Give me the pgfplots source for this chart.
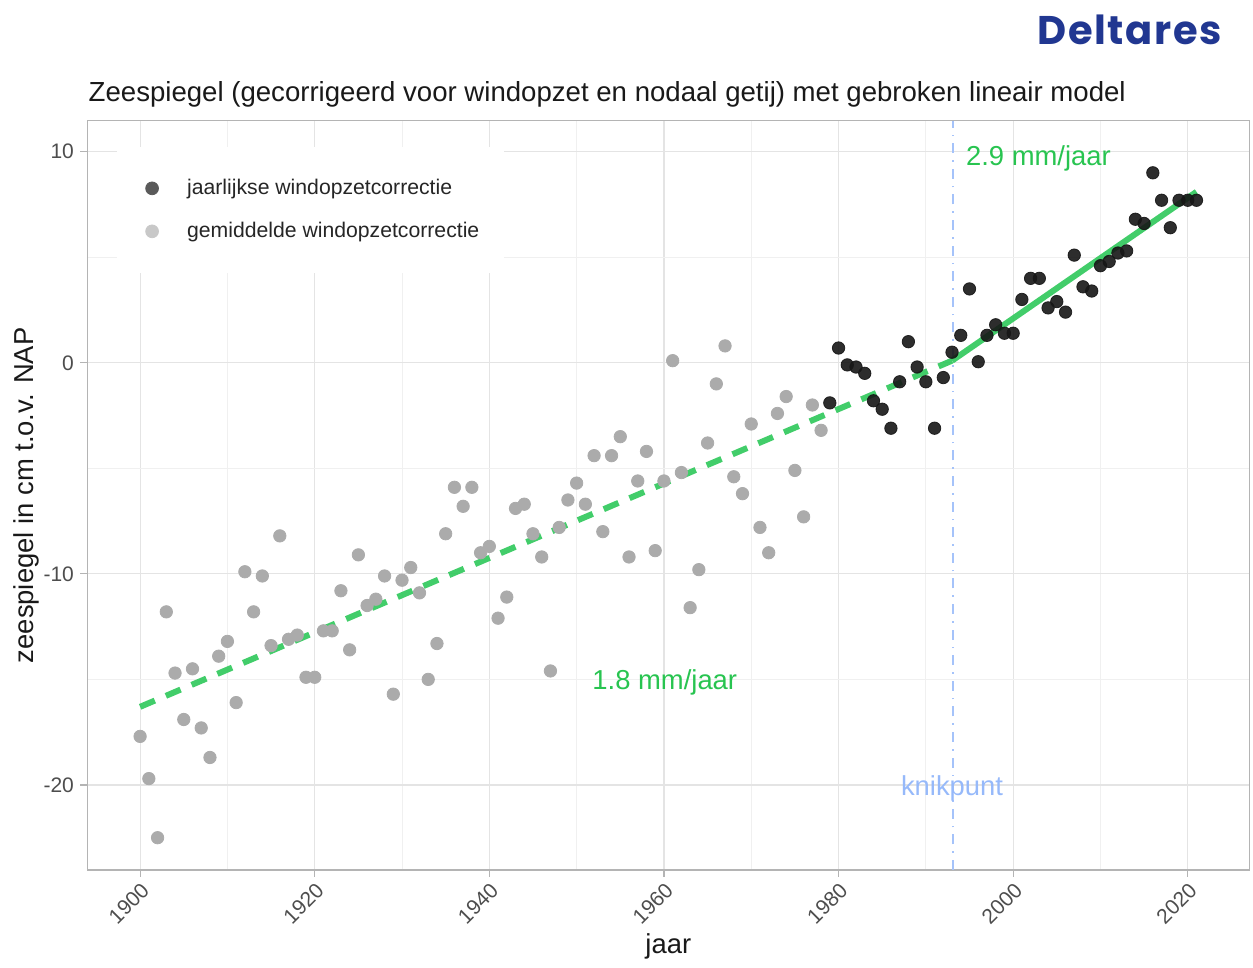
\documentclass[border=0pt]{standalone}
\usepackage{pgfplots}
\pgfplotsset{compat=1.18}
\usepackage{fontspec}
\setmainfont{Liberation Sans}
\newfontfamily\logofont{Poppins}[LetterSpace=4]

\definecolor{gemgray}{RGB}{171,171,171}
\definecolor{jaardark}{RGB}{22,22,22}
\definecolor{legdark}{RGB}{90,90,90}
\definecolor{leglight}{RGB}{200,200,200}
\definecolor{fitgreen}{RGB}{46,200,90}
\definecolor{txtgreen}{RGB}{40,196,80}
\definecolor{knikblue}{RGB}{150,185,250}
\definecolor{knikline}{RGB}{165,195,250}
\definecolor{gridmaj}{RGB}{228,228,228}
\definecolor{gridmin}{RGB}{240,240,240}
\definecolor{border}{RGB}{180,180,180}
\definecolor{ticktxt}{RGB}{77,77,77}
\definecolor{deltablue}{RGB}{33,55,145}

% gemiddelde windopzetcorrectie (1900-1978)
\pgfplotstableread{
jaar zs
1900 -17.7
1901 -19.7
1902 -22.5
1903 -11.8
1904 -14.7
1905 -16.9
1906 -14.5
1907 -17.3
1908 -18.7
1909 -13.9
1910 -13.2
1911 -16.1
1912 -9.9
1913 -11.8
1914 -10.1
1915 -13.4
1916 -8.2
1917 -13.1
1918 -12.9
1919 -14.9
1920 -14.9
1921 -12.7
1922 -12.7
1923 -10.8
1924 -13.6
1925 -9.1
1926 -11.5
1927 -11.2
1928 -10.1
1929 -15.7
1930 -10.3
1931 -9.7
1932 -10.9
1933 -15.0
1934 -13.3
1935 -8.1
1936 -5.9
1937 -6.8
1938 -5.9
1939 -9.0
1940 -8.7
1941 -12.1
1942 -11.1
1943 -6.9
1944 -6.7
1945 -8.1
1946 -9.2
1947 -14.6
1948 -7.8
1949 -6.5
1950 -5.7
1951 -6.7
1952 -4.4
1953 -8.0
1954 -4.4
1955 -3.5
1956 -9.2
1957 -5.6
1958 -4.2
1959 -8.9
1960 -5.6
1961 0.1
1962 -5.2
1963 -11.6
1964 -9.8
1965 -3.8
1966 -1.0
1967 0.8
1968 -5.4
1969 -6.2
1970 -2.9
1971 -7.8
1972 -9.0
1973 -2.4
1974 -1.6
1975 -5.1
1976 -7.3
1977 -2.0
1978 -3.2
}\gemiddeld

% jaarlijkse windopzetcorrectie (1979-2021)
\pgfplotstableread{
jaar zs
1979 -1.9
1980 0.7
1981 -0.1
1982 -0.2
1983 -0.5
1984 -1.8
1985 -2.2
1986 -3.1
1987 -0.9
1988 1.0
1989 -0.2
1990 -0.9
1991 -3.1
1992 -0.7
1993 0.5
1994 1.3
1995 3.5
1996 0.05
1997 1.3
1998 1.8
1999 1.4
2000 1.4
2001 3.0
2002 4.0
2003 4.0
2004 2.6
2005 2.9
2006 2.4
2007 5.1
2008 3.6
2009 3.4
2010 4.6
2011 4.8
2012 5.2
2013 5.3
2014 6.8
2015 6.6
2016 9.0
2017 7.7
2018 6.4
2019 7.7
2020 7.7
2021 7.7
}\jaarlijks

\begin{document}
\begin{tikzpicture}
\path[use as bounding box] (-43.65pt,-49pt) rectangle (582.85pt,435pt);
\begin{axis}[
    at={(0,0)}, anchor=south west,
    scale only axis,
    width=581pt, height=374.65pt,
    xmin=1893.95, xmax=2027.05,
    ymin=-24.03, ymax=11.47,
    xtick={1900,1920,...,2020},
    xticklabels={1900,1920,1940,1960,1980,2000,2020},
    minor xtick={1910,1930,...,2010},
    ytick={-20,-10,0,10},
    yticklabels={-20,-10,0,10},
    minor ytick={-15,-5,5},
    grid=both,
    major grid style={gridmaj, line width=0.6pt},
    minor grid style={gridmin, line width=0.4pt},
    axis line style={border, line width=0.6pt},
    tick align=outside,
    major tick length=3.5pt,
    minor tick length=0pt,
    tick style={border, line width=0.6pt},
    xtick pos=bottom, ytick pos=left,
    tick label style={font=\fontsize{10.5}{12}\selectfont, text=ticktxt},
    xticklabel style={rotate=45, anchor=north east, inner sep=1.5pt},
    yticklabel style={inner sep=3pt},
    xlabel={jaar},
    ylabel={zeespiegel in cm t.o.v. NAP},
    label style={font=\fontsize{13.7}{15}\selectfont, text=black!90},
    xlabel style={at={(axis description cs:0.5,-0.1015)}, anchor=center},
    ylabel style={at={(axis description cs:-0.0520,0.5)}, anchor=center, rotate=0},
    clip=false,
    legend cell align=left,
    legend style={
        at={(axis description cs:0.0253,0.9656)}, anchor=north west,
        draw=none, fill=white, inner xsep=0pt, inner ysep=10pt,
        font=\fontsize{10.6}{12}\selectfont, text=black!85,
        row sep=0pt,
        nodes={inner xsep=0pt},
    },
    legend image code/.code={
        \path[draw=none, fill=none] (0pt,-10.75pt) rectangle (35pt,10.75pt);
        \draw[#1] plot coordinates {(17.5pt,0pt)};
    },
]
\addlegendimage{only marks, mark=*, mark size=3.2pt, color=legdark}
\addlegendentry{jaarlijkse windopzetcorrectie}
\addlegendimage{only marks, mark=*, mark size=3.2pt, color=leglight}
\addlegendentry{gemiddelde windopzetcorrectie\rule{12.5pt}{0pt}}

% knikpunt
\addplot[knikline, line width=0.9pt, dash pattern=on 5pt off 3.5pt on 0.8pt off 3.5pt, forget plot]
    coordinates {(1993.1,-24.03) (1993.1,11.47)};

\addplot[only marks, mark=*, mark size=3.1pt, color=gemgray, forget plot]
    table[x=jaar, y=zs] {\gemiddeld};
\addplot[only marks, mark=*, mark size=3.1pt, color=jaardark, mark options={opacity=0.9}, forget plot]
    table[x=jaar, y=zs] {\jaarlijks};

% gebroken lineair model
\addplot[fitgreen, opacity=0.9, line width=3pt, dash pattern=on 8pt off 6pt, forget plot]
    coordinates {(1900,-16.3) (1993,0.1)};
\addplot[fitgreen, opacity=0.9, line width=3pt, forget plot]
    coordinates {(1993,0.1) (2021,8.1)};

\node[anchor=west, text=txtgreen, font=\fontsize{13.7}{15}\selectfont] at (axis cs:1993.8,9.7) {2.9 mm/jaar};
\node[text=txtgreen, font=\fontsize{13.7}{15}\selectfont] at (axis cs:1960.1,-15.15) {1.8 mm/jaar};
\node[text=knikblue, font=\fontsize{13.7}{15}\selectfont] at (axis cs:1993.0,-20.15) {knikpunt};
\end{axis}

\node[anchor=base west, inner sep=0pt, font=\fontsize{13.8}{15}\selectfont, text=black!90]
    at (0.5pt,384.15pt) {Zeespiegel (gecorrigeerd voor windopzet en nodaal getij) met gebroken lineair model};
\node[anchor=base east, inner sep=0pt, text=deltablue, font=\logofont\bfseries\fontsize{20}{22}\selectfont]
    at (567.35pt,412.5pt) {Deltares};
\end{tikzpicture}
\end{document}
